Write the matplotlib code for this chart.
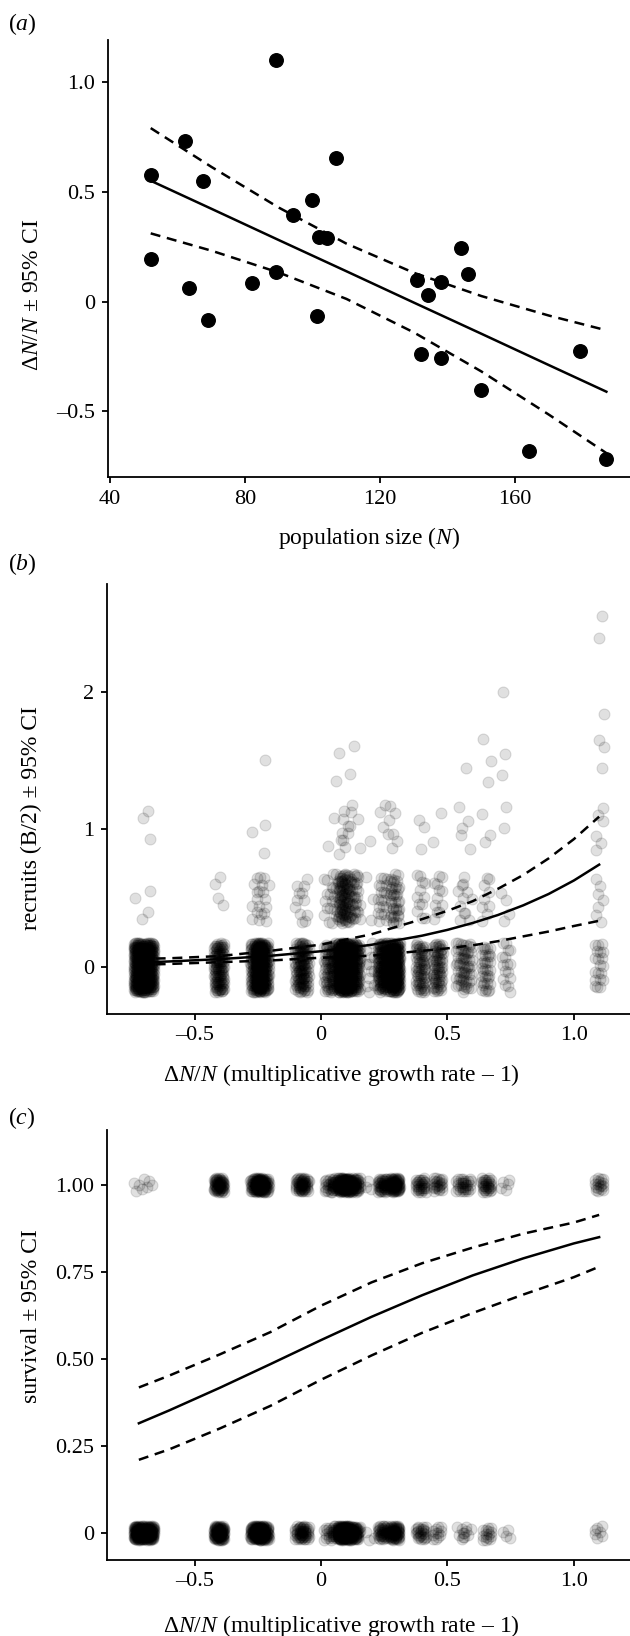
import numpy as np
import matplotlib
matplotlib.use('Agg')
import matplotlib.pyplot as plt

plt.rcParams['font.family'] = ['Liberation Serif', 'DejaVu Serif']
plt.rcParams['mathtext.fontset'] = 'custom'
plt.rcParams['mathtext.rm'] = 'Liberation Serif'
plt.rcParams['mathtext.it'] = 'Liberation Serif:italic'

# ---- panel (a): yearly population size vs growth rate ----
pop_size = [52.1, 52.1, 62.2, 63.2, 67.4, 69.1, 82.0, 89.1, 89.1, 94.3, 99.9, 101.2, 102.0,
            104.1, 107.0, 131.0, 132.0, 134.1, 138.1, 138.1, 144.0, 146.0, 150.0, 164.0, 179.1, 187.0]
growth = [0.577, 0.195, 0.730, 0.064, 0.552, -0.084, 0.085, 1.102, 0.136, 0.395, 0.461, -0.067, 0.293,
          0.290, 0.654, 0.100, -0.241, 0.031, 0.089, -0.259, 0.244, 0.125, -0.403, -0.680, -0.226, -0.720]

a_x = [52, 70, 90, 110, 130, 150, 170, 187]
a_fit = [0.551, 0.423, 0.280, 0.138, -0.005, -0.147, -0.290, -0.411]
a_hi = [0.791, 0.614, 0.428, 0.264, 0.131, 0.025, -0.064, -0.131]
a_lo = [0.311, 0.232, 0.132, 0.012, -0.141, -0.319, -0.516, -0.691]

# ---- panels (b) and (c): individuals per year (x = growth of that year) ----
years_dn = [-0.720, -0.680, -0.403, -0.259, -0.241, -0.226, -0.084, -0.067, 0.031, 0.064, 0.085, 0.089, 0.100,
            0.125, 0.136, 0.195, 0.244, 0.290, 0.293, 0.395, 0.461, 0.552, 0.577, 0.654, 0.730, 1.102]

rec_levels = [0, 0.5, 1.0, 1.5, 2.0, 2.5]
rec_0 = [240, 210, 120, 120, 120, 120, 65, 65, 60, 75, 90, 105, 105, 90, 75, 12, 140, 120, 120, 70, 70, 32, 32, 35, 16, 20]
rec_05 = [2, 2, 4, 7, 7, 6, 6, 6, 12, 16, 28, 30, 30, 22, 14, 3, 20, 20, 20, 12, 12, 6, 6, 9, 4, 7]
rec_1 = [1, 2, 0, 1, 1, 1, 0, 0, 1, 2, 3, 3, 3, 2, 2, 1, 4, 3, 3, 3, 2, 2, 3, 3, 2, 6]
rec_15 = [0, 0, 0, 0, 0, 1, 0, 0, 0, 1, 1, 0, 1, 1, 0, 0, 0, 0, 0, 0, 0, 0, 1, 3, 2, 3]
rec_2 = [0, 0, 0, 0, 0, 0, 0, 0, 0, 0, 0, 0, 0, 0, 0, 0, 0, 0, 0, 0, 0, 0, 0, 0, 1, 1]
rec_25 = [0, 0, 0, 0, 0, 0, 0, 0, 0, 0, 0, 0, 0, 0, 0, 0, 0, 0, 0, 0, 0, 0, 0, 0, 0, 2]

surv_1 = [4, 4, 65, 50, 50, 50, 30, 30, 22, 28, 40, 40, 45, 40, 28, 3, 45, 40, 40, 32, 24, 16, 16, 32, 5, 18]
surv_0 = [120, 105, 100, 70, 65, 65, 28, 28, 15, 30, 50, 55, 55, 50, 28, 3, 42, 35, 35, 26, 12, 6, 6, 15, 4, 7]

b_x = [-0.72, -0.6, -0.4, -0.2, 0.0, 0.2, 0.4, 0.5, 0.6, 0.7, 0.8, 0.9, 1.0, 1.1]
b_fit = [0.035, 0.043, 0.060, 0.084, 0.117, 0.164, 0.230, 0.272, 0.322, 0.380, 0.450, 0.532, 0.630, 0.745]
b_hi = [0.062, 0.066, 0.082, 0.120, 0.165, 0.240, 0.350, 0.410, 0.480, 0.570, 0.670, 0.790, 0.930, 1.093]
b_lo = [0.018, 0.025, 0.038, 0.050, 0.070, 0.085, 0.120, 0.138, 0.160, 0.190, 0.225, 0.260, 0.300, 0.338]

c_x = [-0.72, -0.6, -0.4, -0.2, 0.0, 0.2, 0.4, 0.6, 0.8, 1.0, 1.1]
c_fit = [0.315, 0.352, 0.417, 0.485, 0.554, 0.621, 0.683, 0.740, 0.789, 0.832, 0.850]
c_hi = [0.418, 0.452, 0.513, 0.577, 0.653, 0.720, 0.775, 0.820, 0.860, 0.892, 0.914]
c_lo = [0.210, 0.240, 0.300, 0.365, 0.440, 0.510, 0.575, 0.632, 0.685, 0.735, 0.765]

# deterministic jitter (low-discrepancy sequence) so the picture is reproducible
G1, G2 = 0.7548776662466927, 0.5698402909980532


def jittered(groups_x, groups_y, counts, wx, wy):
    xs, ys = [], []
    k = 0
    for gx, gy, n in zip(groups_x, groups_y, counts):
        idx = np.arange(k, k + n)
        xs.append(gx + ((0.5 + idx * G1) % 1.0 * 2 - 1) * wx)
        ys.append(gy + ((0.5 + idx * G2) % 1.0 * 2 - 1) * wy)
        k += n
    return np.concatenate(xs), np.concatenate(ys)


def style(ax):
    for s in ['top', 'right']:
        ax.spines[s].set_visible(False)
    for s in ['left', 'bottom']:
        ax.spines[s].set_linewidth(1.3)
    ax.tick_params(width=1.3, length=4, labelsize=16, pad=5)


W, H = 630, 1636
fig = plt.figure(figsize=(6.3, 16.36), dpi=100)
dash = (4, 2.7)
LW = 1.8

# ---------- (a) ----------
ax = fig.add_axes([107.5 / W, 1 - 477 / H, 1 - 107.5 / W, (477 - 39.5) / H])
ax.scatter(pop_size, growth, s=95, color='black', zorder=3)
ax.plot(a_x, a_fit, color='black', lw=LW)
ax.plot(a_x, a_hi, color='black', lw=LW, dashes=dash)
ax.plot(a_x, a_lo, color='black', lw=LW, dashes=dash)
ax.set_xlim(39.2, 194)
ax.set_ylim(-0.80, 1.195)
ax.set_xticks([40, 80, 120, 160], ['40', '80', '120', '160'])
ax.set_yticks([-0.5, 0, 0.5, 1.0], ['–0.5', '0', '0.5', '1.0'])
ax.set_xlabel('population size ($N$)', fontsize=17)
ax.set_ylabel('Δ$N$/$N$ ± 95% CI', fontsize=17)
ax.yaxis.set_label_coords(-0.124, 0.417)
ax.xaxis.set_label_coords(0.5, -0.11)
style(ax)
fig.text(8 / W, 1 - 24 / H, '($a$)', fontsize=17, va='center')

# ---------- (b) ----------
ax = fig.add_axes([107 / W, 1 - 1014 / H, 1 - 107 / W, (1014 - 584) / H])
gx, gy, cnt = [], [], []
for lev, arr in zip(rec_levels, [rec_0, rec_05, rec_1, rec_15, rec_2, rec_25]):
    for yx, c in zip(years_dn, arr):
        if c:
            gx.append(yx); gy.append(lev); cnt.append(c)
px, py = jittered(gx, gy, cnt, 0.02, 0.18)
ax.scatter(px, py, s=62, color='black', alpha=0.12, linewidths=0.8)
ax.plot(b_x, b_fit, color='black', lw=LW)
ax.plot(b_x, b_hi, color='black', lw=LW, dashes=dash)
ax.plot(b_x, b_lo, color='black', lw=LW, dashes=dash)
ax.set_xlim(-0.846, 1.222)
ax.set_ylim(-0.338, 2.78)
ax.set_xticks([-0.5, 0, 0.5, 1.0], ['–0.5', '0', '0.5', '1.0'])
ax.set_yticks([0, 1, 2], ['0', '1', '2'])
ax.set_xlabel('Δ$N$/$N$ (multiplicative growth rate – 1)', fontsize=17)
ax.set_ylabel('recruits (B/2) ± 95% CI', fontsize=17)
ax.yaxis.set_label_coords(-0.124, 0.456)
ax.xaxis.set_label_coords(0.449, -0.112)
style(ax)
fig.text(8 / W, 1 - 564 / H, '($b$)', fontsize=17, va='center')

# ---------- (c) ----------
ax = fig.add_axes([107 / W, 1 - 1560 / H, 1 - 107 / W, (1560 - 1130) / H])
gx = years_dn + years_dn
gy = [1.0] * len(years_dn) + [0.0] * len(years_dn)
px, py = jittered(gx, gy, surv_1 + surv_0, 0.02, 0.02)
ax.scatter(px, py, s=62, color='black', alpha=0.12, linewidths=0.8)
ax.plot(c_x, c_fit, color='black', lw=LW)
ax.plot(c_x, c_hi, color='black', lw=LW, dashes=dash)
ax.plot(c_x, c_lo, color='black', lw=LW, dashes=dash)
ax.set_xlim(-0.846, 1.222)
ax.set_ylim(-0.078, 1.158)
ax.set_xticks([-0.5, 0, 0.5, 1.0], ['–0.5', '0', '0.5', '1.0'])
ax.set_yticks([0, 0.25, 0.5, 0.75, 1.0], ['0', '0.25', '0.50', '0.75', '1.00'])
ax.set_xlabel('Δ$N$/$N$ (multiplicative growth rate – 1)', fontsize=17)
ax.set_ylabel('survival ± 95% CI', fontsize=17)
ax.yaxis.set_label_coords(-0.124, 0.568)
ax.xaxis.set_label_coords(0.449, -0.123)
style(ax)
fig.text(8 / W, 1 - 1118 / H, '($c$)', fontsize=17, va='center')

fig.savefig('out.png', dpi=100)
